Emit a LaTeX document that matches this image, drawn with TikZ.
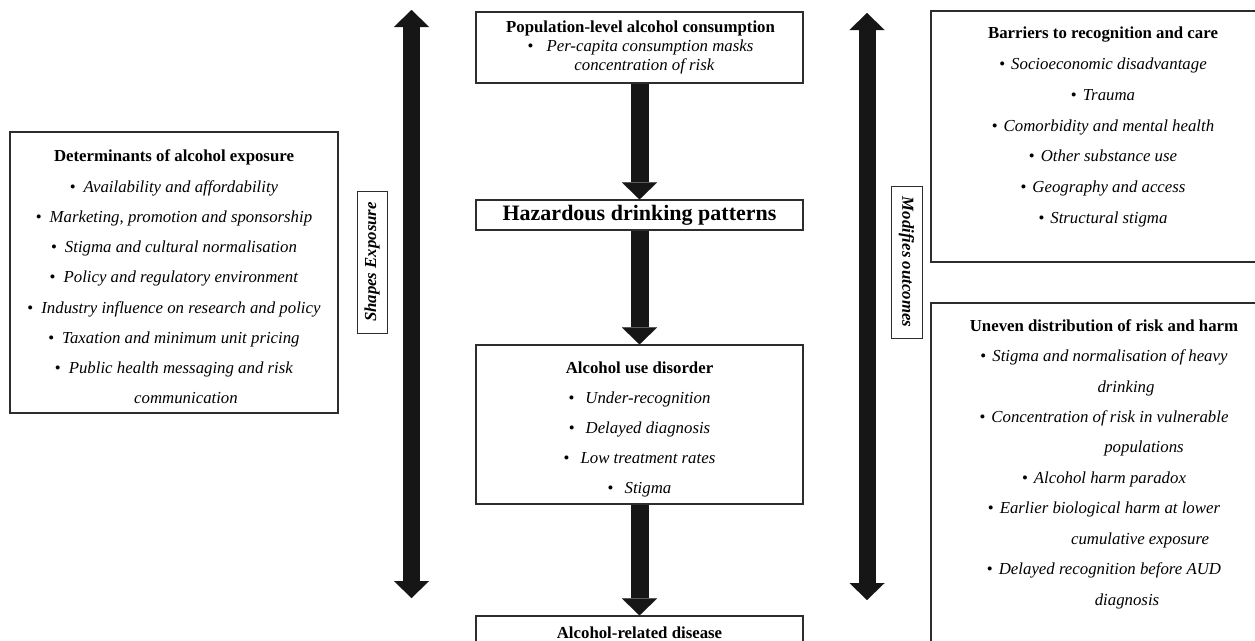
\documentclass[tikz,border=0pt]{standalone}
\usepackage{fontspec}
\setmainfont{Liberation Serif}
\usetikzlibrary{arrows.meta}
\definecolor{arr}{RGB}{22,22,22}
\definecolor{bord}{RGB}{45,45,45}
\newcommand{\bl}[1]{\textup{\textbullet}\hspace{#1}}
\newcommand{\ctl}[1]{\hspace*{#1}}
\begin{document}
\begin{tikzpicture}[x=1pt,y=-1pt,
  frame/.style={draw=bord, line width=1.1pt, inner sep=0pt, fill=white},
  lab/.style={draw=bord, line width=0.9pt, inner sep=0pt, font=\fontsize{16.8}{20}\selectfont\bfseries\itshape},
  txt/.style={align=center, inner sep=0pt},
  fat/.style={draw=arr, line width=18pt, -{Triangle[width=35pt,length=17pt,line width=0.01pt]}},
  dbl/.style={draw=arr, line width=17pt, {Triangle[width=35pt,length=17pt,line width=0.01pt]}-{Triangle[width=35pt,length=17pt,line width=0.01pt]}}
]
\useasboundingbox (0,0) rectangle (1255,640);
\clip (0,0) rectangle (1255,640);
\fill[white] (0,0) rectangle (1255,640);

% left box
\node[frame, minimum width=328pt, minimum height=281pt] (detbox) at (174,272.5) {};
\node[txt, font=\fontsize{16.8}{30.25}\selectfont] (det) at (174,277) {\textbf{Determinants of alcohol exposure}\\
\bl{8pt}\textit{Availability and affordability}\\
\bl{8pt}\textit{Marketing, promotion and sponsorship}\\
\bl{8pt}\textit{Stigma and cultural normalisation}\\
\bl{8pt}\textit{Policy and regulatory environment}\\
\bl{8pt}\textit{Industry influence on research and policy}\\
\bl{8pt}\textit{Taxation and minimum unit pricing}\\
\bl{8pt}\textit{Public health messaging and risk}\\
\ctl{24pt}\textit{communication}};

% center column
\node[frame, minimum width=327pt, minimum height=71pt] (pop) at (639.5,47.5) {};
\node[txt, font=\fontsize{16.8}{19}\selectfont] (poptxt) at (640.5,47.5) {\textbf{Population-level alcohol consumption}\\
\bl{13pt}\textit{Per-capita consumption masks}\\
\ctl{8pt}\textit{concentration of risk}};

\node[frame, minimum width=327pt, minimum height=30pt] (haz) at (639.5,215) {};
\node[txt, font=\fontsize{22}{26}\selectfont\bfseries] (haztxt) at (639.5,215) {Hazardous drinking patterns};

\node[frame, minimum width=327pt, minimum height=159pt] (aud) at (639.5,424.5) {};
\node[txt, font=\fontsize{16.8}{30}\selectfont] (audtxt) at (639.5,429) {\textbf{Alcohol use disorder}\\
\bl{11pt}\textit{Under-recognition}\\
\bl{11pt}\textit{Delayed diagnosis}\\
\bl{11pt}\textit{Low treatment rates}\\
\bl{11pt}\textit{Stigma}};

\node[frame, minimum width=327pt, minimum height=60pt] (dis) at (639.5,646) {};
\node[txt, font=\fontsize{16.8}{20}\selectfont\bfseries] (distxt) at (639.5,633) {Alcohol-related disease};

\draw[fat] (pop.south) -- (haz.north);
\draw[fat] (haz.south) -- (aud.north);
\draw[fat] (aud.south) -- (dis.north);

% side arrows
\coordinate (l1) at (411.5,10);
\coordinate (l2) at (411.5,598);
\coordinate (r1) at (867,13);
\coordinate (r2) at (867,600);
\draw[dbl] (l1) -- (l2);
\draw[dbl] (r1) -- (r2);

\node[lab, rotate=90, minimum width=142pt, minimum height=30pt] (shapes) at (372,262) {Shapes Exposure};
\node[lab, rotate=-90, minimum width=152pt, minimum height=31pt] (modif) at (906.5,262) {Modifies outcomes};

% right boxes
\node[frame, minimum width=340pt, minimum height=251pt] (barbox) at (1101,136.5) {};
\node[txt, font=\fontsize{16.8}{30.8}\selectfont] (bar) at (1103,127) {\textbf{Barriers to recognition and care}\\
\bl{6pt}\textit{Socioeconomic disadvantage}\\
\bl{6pt}\textit{Trauma}\\
\bl{6pt}\textit{Comorbidity and mental health}\\
\bl{6pt}\textit{Other substance use}\\
\bl{6pt}\textit{Geography and access}\\
\bl{6pt}\textit{Structural stigma}};

\node[frame, minimum width=340pt, minimum height=377pt] (unbox) at (1101,491.5) {};
\node[txt, font=\fontsize{16.8}{30.44}\selectfont] (un) at (1104,464) {\textbf{Uneven distribution of risk and harm}\\
\bl{6pt}\textit{Stigma and normalisation of heavy}\\
\ctl{44pt}\textit{drinking}\\
\bl{6pt}\textit{Concentration of risk in vulnerable}\\
\ctl{80pt}\textit{populations}\\
\bl{6pt}\textit{Alcohol harm paradox}\\
\bl{6pt}\textit{Earlier biological harm at lower}\\
\ctl{72pt}\textit{cumulative exposure}\\
\bl{6pt}\textit{Delayed recognition before AUD}\\
\ctl{46pt}\textit{diagnosis}};
\end{tikzpicture}
\end{document}
